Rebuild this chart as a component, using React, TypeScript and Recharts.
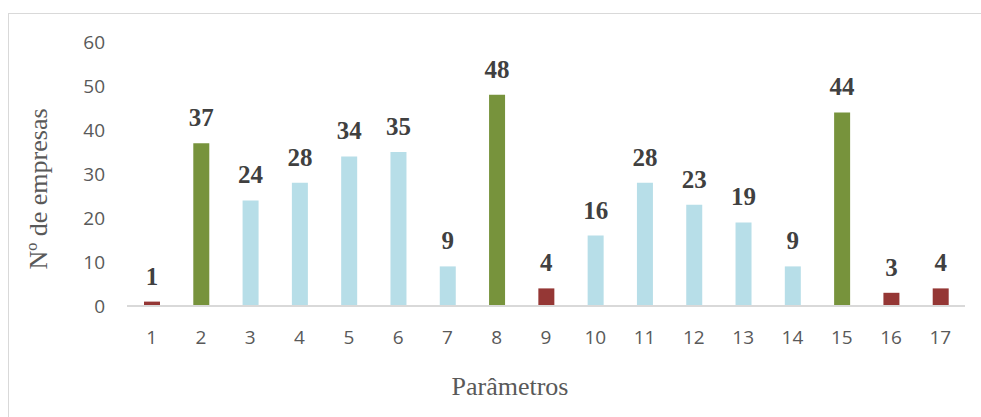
import React from "react";
import { BarChart, Bar, XAxis, YAxis, Cell, LabelList, Label } from "recharts";

const categories = ["1", "2", "3", "4", "5", "6", "7", "8", "9", "10", "11", "12", "13", "14", "15", "16", "17"];
const values = [1, 37, 24, 28, 34, 35, 9, 48, 4, 16, 28, 23, 19, 9, 44, 3, 4];
const groups = ["r", "g", "b", "b", "b", "b", "b", "g", "r", "b", "b", "b", "b", "b", "g", "r", "r"];
const yTicks = [0, 10, 20, 30, 40, 50, 60];

const COLORS: Record<string, string> = { r: "#953735", g: "#77933C", b: "#B7DEE8" };

const data = categories.map((c, i) => ({ name: c, value: values[i], group: groups[i] }));

const tickStyle = { fill: "#595959", fontSize: 19, fontFamily: "'Open Sans', sans-serif" };
const titleStyle = { fill: "#595959", fontSize: 26, fontFamily: "'Liberation Serif', 'Times New Roman', serif" };

export default function App() {
  return (
    <div style={{ position: "absolute", left: 0, top: 0, width: 981, height: 417, overflow: "hidden", background: "#fff" }}>
      <div
        style={{
          position: "absolute",
          left: 8,
          top: 13,
          width: 1000,
          height: 500,
          borderTop: "1px solid #D9D9D9",
          borderLeft: "1px solid #D9D9D9",
        }}
      />
      <div style={{ position: "absolute", left: 0, top: 0 }}>
        <BarChart width={981} height={417} data={data} margin={{ top: 42, right: 16, bottom: 16, left: 67 }}>
          <XAxis
            dataKey="name"
            height={95}
            axisLine={{ stroke: "#D9D9D9", strokeWidth: 2 }}
            tickLine={false}
            tickSize={6}
            tickMargin={19}
            tick={tickStyle}
            interval={0}
          >
            <Label
              content={() => (
                <text x={510} y={395} textAnchor="middle" style={titleStyle}>
                  Parâmetros
                </text>
              )}
            />
          </XAxis>
          <YAxis
            width={60}
            domain={[0, 60]}
            ticks={yTicks}
            axisLine={false}
            tickLine={false}
            tickSize={6}
            tickMargin={16}
            tick={tickStyle}
          >
            <Label
              content={() => (
                <text x={47} y={189} transform="rotate(-90 47 189)" textAnchor="middle" style={titleStyle}>
                  Nº de empresas
                </text>
              )}
            />
          </YAxis>
          <Bar dataKey="value" barSize={16} isAnimationActive={false}>
            {data.map((d, i) => (
              <Cell key={i} fill={COLORS[d.group]} />
            ))}
            <LabelList
              dataKey="value"
              position="top"
              offset={17}
              style={{ fill: "#404040", fontSize: 25, fontWeight: "bold", fontFamily: "'Liberation Serif', 'Times New Roman', serif" }}
            />
          </Bar>
        </BarChart>
      </div>
    </div>
  );
}
